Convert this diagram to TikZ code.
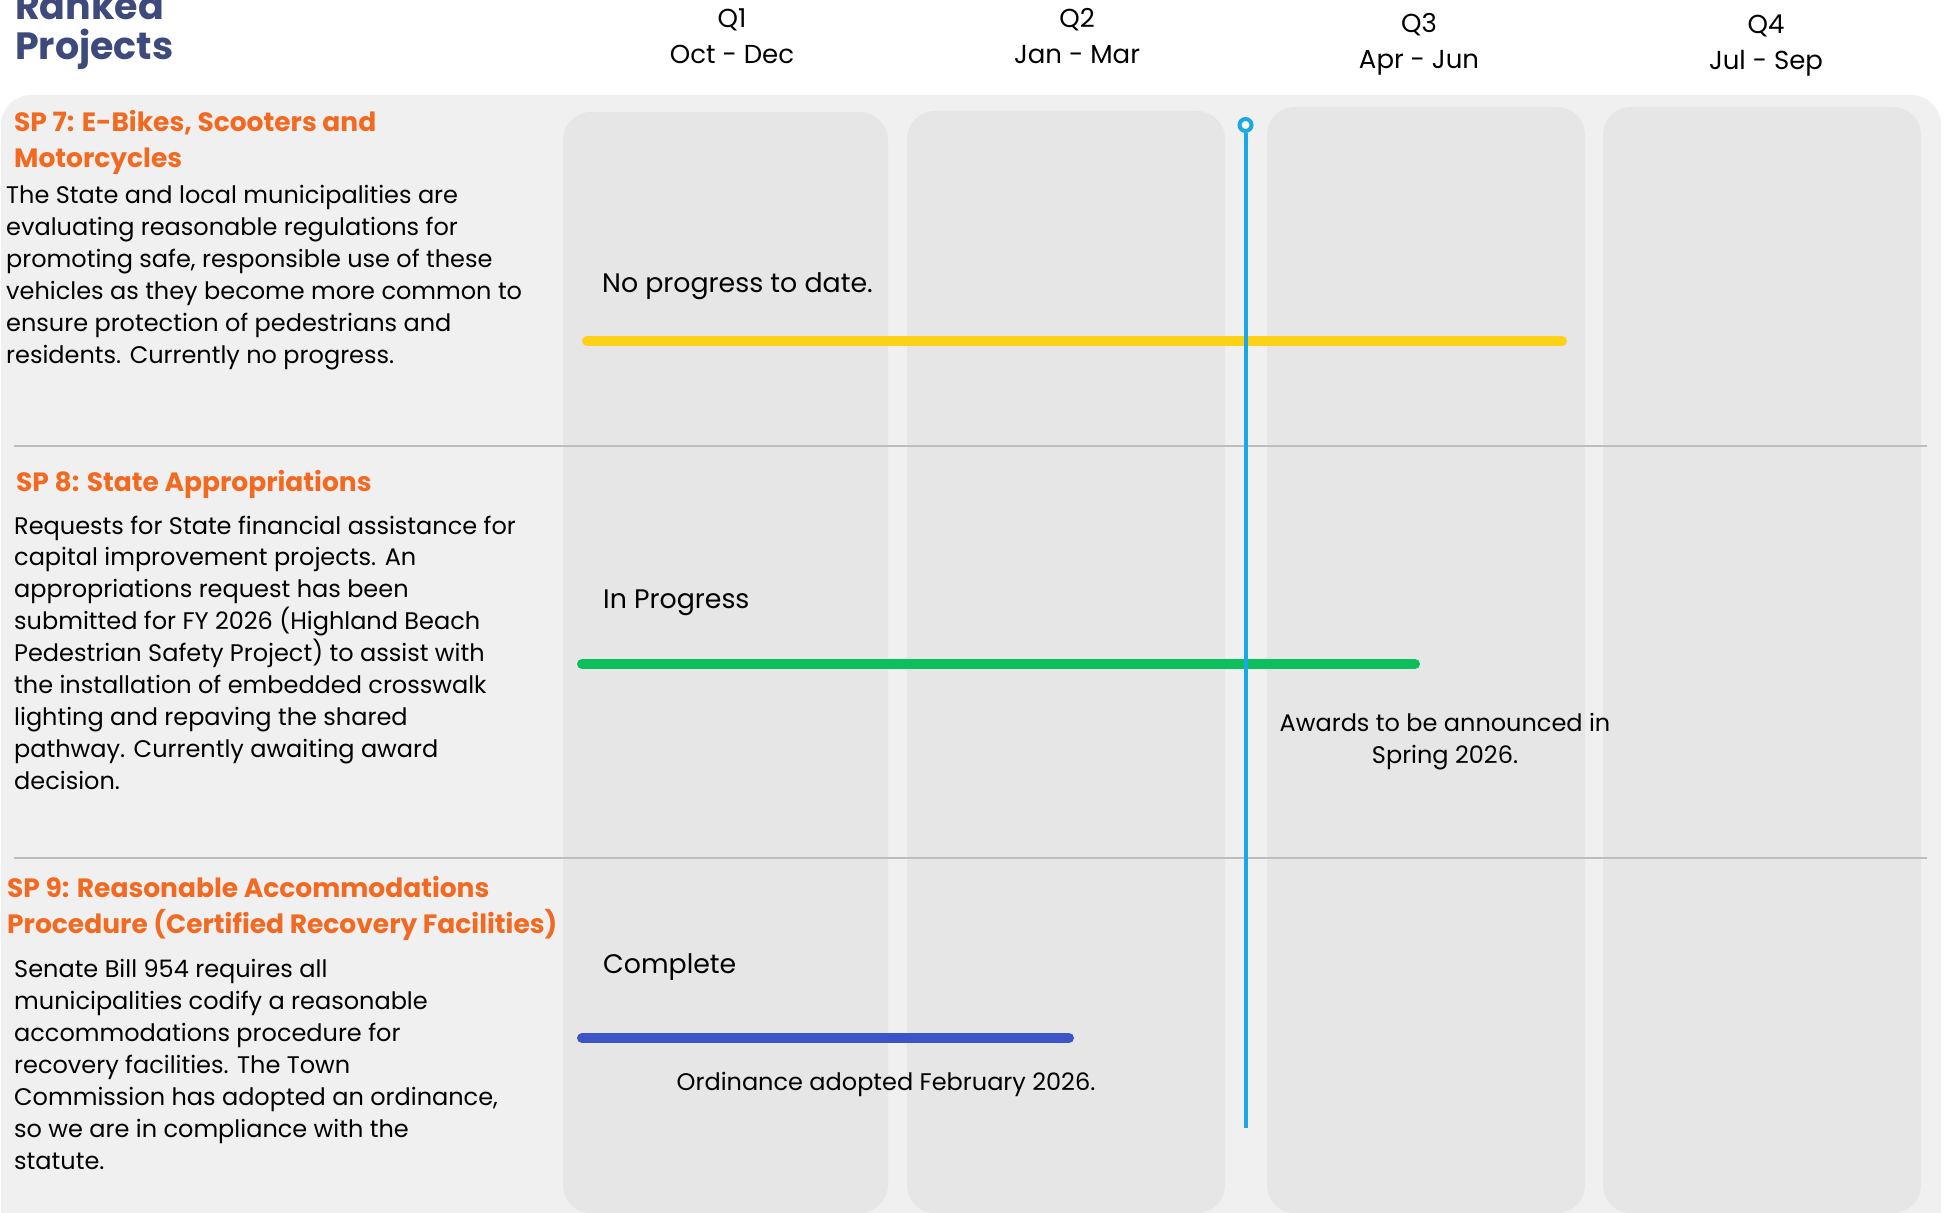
\documentclass[tikz,border=0pt]{standalone}
\usepackage{fontspec}
\setmainfont{Poppins}
\definecolor{panelbg}{HTML}{F0F0F0}
\definecolor{colbg}{HTML}{E6E6E6}
\definecolor{orangeh}{HTML}{F26A21}
\definecolor{navy}{HTML}{3D4A7B}
\definecolor{yellowbar}{HTML}{FCD116}
\definecolor{greenbar}{HTML}{0DBF5C}
\definecolor{bluebar}{HTML}{3B55C6}
\definecolor{tlblue}{HTML}{1BA8E6}
\definecolor{sepc}{HTML}{BDBDBD}
\tikzset{
  colbox/.style={fill=colbg, rounded corners=28pt},
  heading/.style={anchor=north west, inner sep=0pt, align=left, text=orangeh, font=\fontsize{26.5}{36}\selectfont\bfseries},
  body/.style={anchor=north west, inner sep=0pt, align=left, text=black, font=\fontsize{24}{31.9}\selectfont},
  qlab/.style={inner sep=0pt, align=center, font=\fontsize{26}{36}\selectfont},
  status/.style={anchor=west, inner sep=0pt, font=\fontsize{26.8}{32}\selectfont},
  note/.style={inner sep=0pt, align=center, font=\fontsize{24}{32}\selectfont},
  bar/.style={line width=10pt, line cap=round},
  sepline/.style={draw=sepc, line width=1.8pt}
}
\begin{document}
\begin{tikzpicture}[x=1pt,y=-1pt]
\useasboundingbox (0,0) rectangle (1950,1212);
\clip (0,0) rectangle (1950,1212);
% panel
\fill[panelbg, rounded corners=30pt] (1,95) rectangle (1941,1260);
% columns
\fill[colbox] (563,112) rectangle (888,1213);
\fill[colbox] (907,111) rectangle (1225,1213);
\fill[colbox] (1267,107) rectangle (1585,1213);
\fill[colbox] (1603,107) rectangle (1921,1213);
% separators
\coordinate (s1a) at (14,446); \coordinate (s1b) at (1927,446);
\coordinate (s2a) at (14,858); \coordinate (s2b) at (1927,858);
\draw[sepline] (s1a) -- (s1b);
\draw[sepline] (s2a) -- (s2b);
% title
\node[anchor=north west, inner sep=0pt, align=left, text=navy, font=\fontsize{38}{40}\selectfont\bfseries] (title) at (15,-9) {Ranked\\Projects};
% quarter headers
\node[qlab] (q1) at (732,36) {Q1\\Oct - Dec};
\node[qlab] (q2) at (1077,36) {Q2\\Jan - Mar};
\node[qlab] (q3) at (1419,44.5) {Q3\\Apr - Jun};
\node[qlab] (q4) at (1766,45.5) {Q4\\Jul - Sep};
% SP7
\node[heading] (sp7h) at (14,110) {SP 7: E-Bikes, Scooters and\\Motorcycles};
\node[body] (sp7b) at (6,185.5) {The State and local municipalities are\\evaluating reasonable regulations for\\promoting safe, responsible use of these\\vehicles as they become more common to\\ensure protection of pedestrians and\\residents. Currently no progress.};
% SP8
\node[heading] (sp8h) at (16,470) {SP 8: State Appropriations};
\node[body] (sp8b) at (14,515.5) {Requests for State financial assistance for\\capital improvement projects. An\\appropriations request has been\\submitted for FY 2026 (Highland Beach\\Pedestrian Safety Project) to assist with\\the installation of embedded crosswalk\\lighting and repaving the shared\\pathway. Currently awaiting award\\decision.};
% SP9
\node[heading] (sp9h) at (7,876) {SP 9: Reasonable Accommodations\\Procedure (Certified Recovery Facilities)};
\node[body] (sp9b) at (14,959.5) {Senate Bill 954 requires all\\municipalities codify a reasonable\\accommodations procedure for\\recovery facilities. The Town\\Commission has adopted an ordinance,\\so we are in compliance with the\\statute.};
% status labels
\node[status] (st7) at (602,286.5) {No progress to date.};
\node[status] (st8) at (603,602.5) {In Progress};
\node[status] (st9) at (603,967.5) {Complete};
% bars
\coordinate (y1) at (587,341); \coordinate (y2) at (1562,341);
\coordinate (g1) at (582,664); \coordinate (g2) at (1415,664);
\coordinate (b1) at (582,1038); \coordinate (b2) at (1069,1038);
\draw[bar, yellowbar] (y1) -- (y2);
\draw[bar, greenbar] (g1) -- (g2);
\draw[bar, bluebar] (b1) -- (b2);
% notes
\node[note] (n8) at (1445,741.5) {Awards to be announced in\\Spring 2026.};
\node[note] (n9) at (886,1084.5) {Ordinance adopted February 2026.};
% timeline
\coordinate (tlend) at (1245.5,1128);
\draw[tlblue, line width=4pt] (1245.5,133) -- (tlend);
\node[circle, draw=tlblue, fill=white, line width=4pt, minimum size=12pt, inner sep=0pt] (tlc) at (1245.5,125) {};
\end{tikzpicture}
\end{document}
